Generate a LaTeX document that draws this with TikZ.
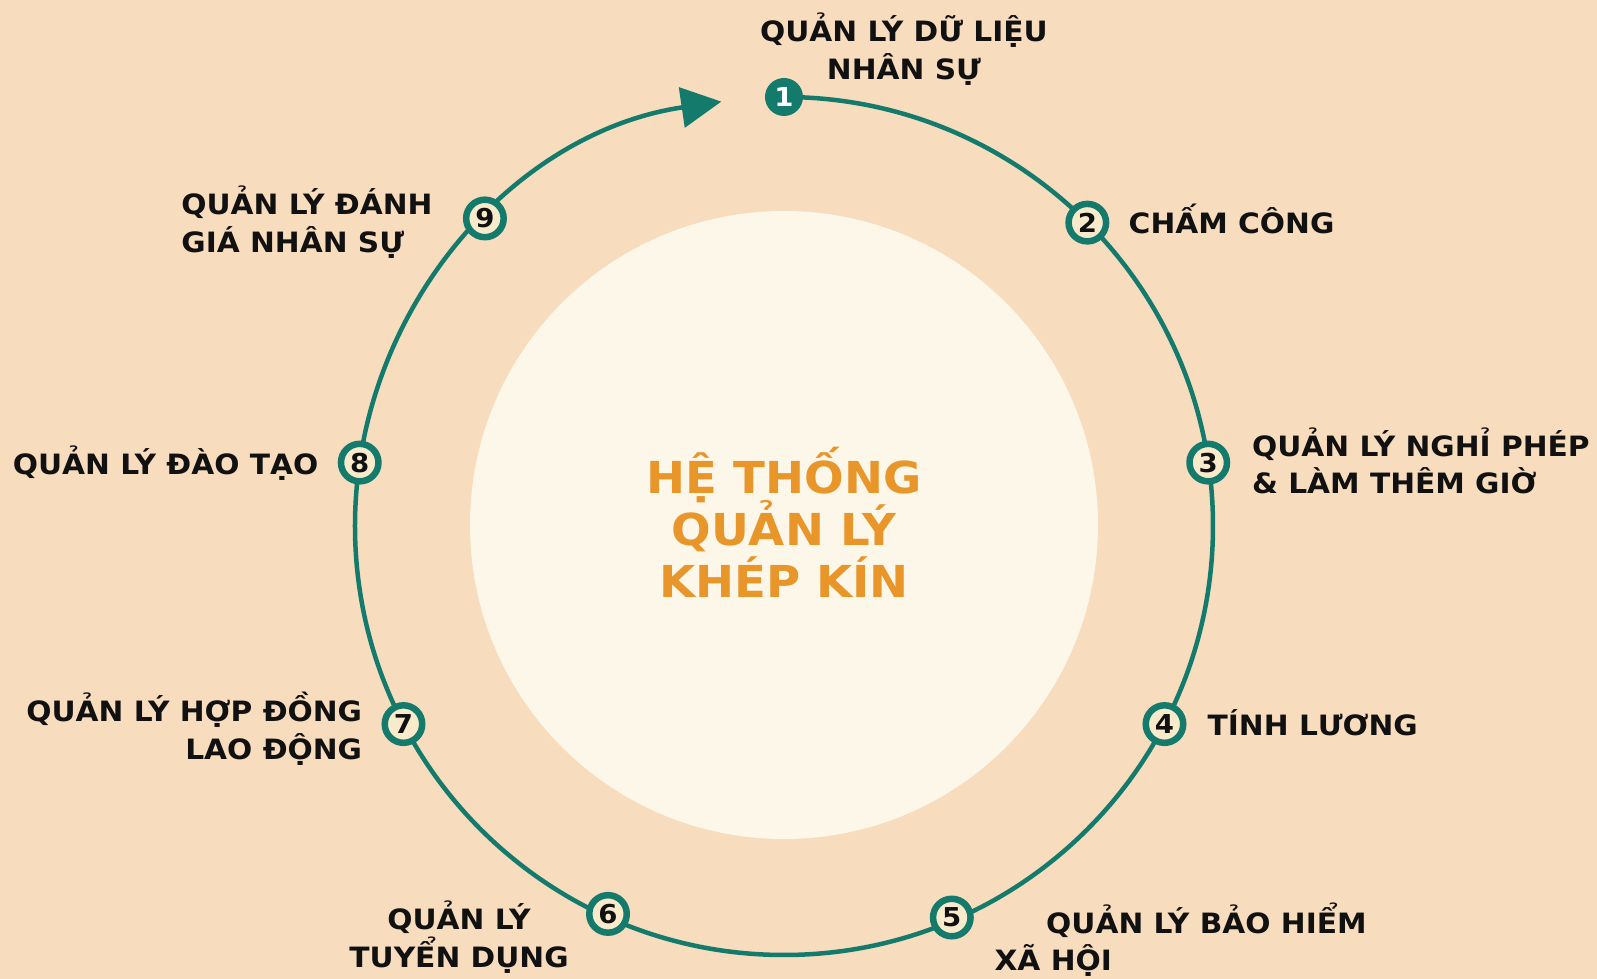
\documentclass[tikz,border=0pt]{standalone}
\usepackage{fontspec}
\setmainfont{DejaVu Sans}[FakeStretch=1.06]
\usetikzlibrary{positioning,arrows.meta}

\definecolor{peach}{HTML}{F8DCBE}
\definecolor{shell}{HTML}{FDF7EA}
\definecolor{ringteal}{HTML}{147A6B}
\definecolor{cream}{HTML}{F8EACB}
\definecolor{amber}{HTML}{E8952A}
\definecolor{ink}{HTML}{111111}

\newcommand{\titlefont}{\bfseries\fontsize{22}{26}\selectfont\lineskiplimit=-30pt\relax}

\begin{document}
\begin{tikzpicture}[x=0.5pt, y=0.5pt]
    \tikzstyle{numring} = [draw=ringteal, line width=3.25pt, fill=cream, shape=circle, minimum size=18.75pt, inner sep=0pt, text=ink, font=\bfseries\fontsize{13}{13}\selectfont]
    \tikzstyle{numfirst} = [fill=ringteal, shape=circle, minimum size=19pt, inner sep=0pt, text=white, font=\bfseries\fontsize{13}{13}\selectfont]
    \tikzstyle{lbl} = [inner sep=0pt, text=ink, font=\bfseries\fontsize{14}{18.75}\selectfont]
    \tikzstyle{title} = [inner sep=0pt, align=center, text=amber, font=\titlefont]

    % page and inner disk
    \fill [peach] (-784,-453) rectangle (813,526);
    \useasboundingbox (-784,-453) rectangle (813,526);
    \fill [shell] (0,1) circle [radius=314];

    % the loop
    \coordinate (start) at (90:429);
    \draw [ringteal, line width=2.25pt, -{Triangle[length=20pt,width=20pt]}] (start) arc [start angle=90, end angle=-261.6, radius=429];

    \node [numfirst] (m1) at (90:429) {1};
    \node [numring] (m2) at (45:429) {2};
    \node [numring] (m3) at (8.5:429) {3};
    \node [numring] (m4) at (-27.5:429) {4};
    \node [numring] (m5) at (-66.8:426) {5};
    \node [numring] (m6) at (-114.4:426) {6};
    \node [numring] (m7) at (-152.5:429) {7};
    \node [numring] (m8) at (171.5:429) {8};
    \node [numring] (m9) at (134.2:429) {9};

    \node [lbl, align=center, xshift=60pt, yshift=24pt] (t1) at (m1) {QUẢN LÝ DỮ LIỆU\\NHÂN SỰ};
    \node [lbl, right=20.5pt of m2.center, anchor=base west, yshift=-5.2pt] (t2) {CHẤM CÔNG};
    \node [lbl, align=left, right=21.7pt of m3.center, yshift=0.8pt] (t3) {QUẢN LÝ NGHỈ PHÉP\\\& LÀM THÊM GIỜ};
    \node [lbl, right=21.4pt of m4.center, anchor=base west, yshift=-5.5pt] (t4) {TÍNH LƯƠNG};
    \node [lbl, align=left, right=21.2pt of m5.center, yshift=-11pt] (t5) {\hspace*{25.8pt}QUẢN LÝ BẢO HIỂM\\XÃ HỘI};
    \node [lbl, align=center, xshift=-74.5pt, yshift=-11.5pt] (t6) at (m6) {QUẢN LÝ\\TUYỂN DỤNG};
    \node [lbl, align=right, left=20.5pt of m7.center, yshift=-2.2pt] (t7) {QUẢN LÝ HỢP ĐỒNG\\LAO ĐỘNG};
    \node [lbl, left=20.5pt of m8.center, anchor=base east, yshift=-6.2pt] (t8) {QUẢN LÝ ĐÀO TẠO};
    \node [lbl, align=left, left=26pt of m9.center, yshift=-1.8pt] (t9) {QUẢN LÝ ĐÁNH\\GIÁ NHÂN SỰ};

    \node [title] (core) at (0,4) {HỆ THỐNG\\QUẢN LÝ\\KHÉP KÍN};
\end{tikzpicture}
\end{document}
